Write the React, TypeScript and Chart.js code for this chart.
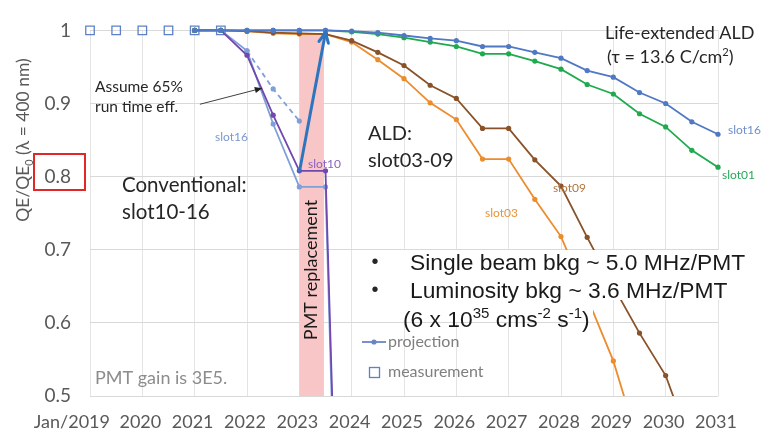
import React, { useEffect, useRef } from 'react';
import { Chart, registerables } from 'chart.js';

Chart.register(...registerables);

// ---------- data ----------
const halfYears = [2021, 2021.5, 2022, 2022.5, 2023, 2023.5, 2024, 2024.5, 2025, 2025.5, 2026, 2026.5, 2027, 2027.5, 2028, 2028.5, 2029, 2029.5, 2030, 2030.5, 2031];
const slot16Ald = [1, 1, 1, 1, 1, 1, 0.999, 0.997, 0.993, 0.989, 0.986, 0.978, 0.978, 0.970, 0.962, 0.945, 0.936, 0.915, 0.900, 0.875, 0.858];
const slot01Ald = [1, 1, 1, 1, 1, 1, 0.998, 0.995, 0.990, 0.984, 0.978, 0.968, 0.968, 0.958, 0.947, 0.926, 0.913, 0.886, 0.868, 0.836, 0.813];
const slot09Ald = [1, 1, 0.999, 0.997, 0.996, 0.995, 0.986, 0.970, 0.952, 0.925, 0.907, 0.866, 0.866, 0.823, 0.787, 0.717, 0.650, 0.586, 0.528, 0.430];
const slot03Ald = [1, 1, 0.999, 0.996, 0.995, 0.995, 0.984, 0.960, 0.934, 0.901, 0.878, 0.824, 0.824, 0.769, 0.718, 0.635, 0.548, 0.430];

const convYears = [2021, 2021.5, 2022, 2022.5, 2023, 2023.5, 2024];
const slot10Conv = [1, 1, 0.966, 0.884, 0.808, 0.808, -0.4];
const slot16Conv = [1, 1, 0.972, 0.872, 0.786, 0.786, -0.45];

const projYears = [2022, 2022.5, 2023];
const slot16Proj = [0.972, 0.92, 0.876];

const measYears = [2019, 2019.5, 2020, 2020.5, 2021, 2021.5];
const measValues = [1, 1, 1, 1, 1, 1];

const arrowYears = [2023, 2023.5];
const arrowValues = [0.806, 0.997];

const replacementBand = [2023, 2023.47];
const replacementTop = 0.996;

const noteArrowYears = [2021.1, 2022.29];
const noteArrowValues = [0.899, 0.921];

const xTickLabels = ['Jan/2019', '2020', '2021', '2022', '2023', '2024', '2025', '2026', '2027', '2028', '2029', '2030', '2031'];
const xTickYears = [2019, 2020, 2021, 2022, 2023, 2024, 2025, 2026, 2027, 2028, 2029, 2030, 2031];

// ---------- styles ----------
const C_ALD16 = '#4f79c4';
const C_ALD01 = '#1faa4e';
const C_09 = '#8a5228';
const C_03 = '#ec8c2c';
const C_10 = '#7247ae';
const C_C16 = '#7f9fd8';
const C_ARROW = '#2e75c0';
const LATO = 'Lato, "Open Sans", sans-serif';
const ARIAL = '"Liberation Sans", Arial, sans-serif';

const pts = (xs: number[], ys: number[]) => ys.map((y, i) => ({ x: xs[i], y }));
const clip = { left: 10, right: 10, top: 10, bottom: 0 };

function lineDs(label: string, xs: number[], ys: number[], color: string, extra: any = {}) {
  return {
    label,
    data: pts(xs, ys),
    borderColor: color,
    backgroundColor: color,
    borderWidth: 1.8,
    pointRadius: 2.6,
    pointHoverRadius: 2.6,
    pointBorderWidth: 0,
    tension: 0,
    clip,
    ...extra,
  };
}

type Part = [string, number]; // text, 0 normal, 1 superscript, -1 subscript
function drawRich(ctx: CanvasRenderingContext2D, x: number, y: number, parts: Part[], size: number, family: string, color: string, small = 0.62) {
  ctx.fillStyle = color;
  ctx.textBaseline = 'alphabetic';
  ctx.textAlign = 'left';
  let cx = x;
  for (const [t, k] of parts) {
    const s = k === 0 ? size : size * small;
    ctx.font = `${s}px ${family}`;
    const dy = k === 1 ? -size * 0.38 : k === -1 ? size * 0.22 : 0;
    ctx.fillText(t, cx, y + dy);
    cx += ctx.measureText(t).width;
  }
}
function richWidth(ctx: CanvasRenderingContext2D, parts: Part[], size: number, family: string, small = 0.62) {
  let w = 0;
  for (const [t, k] of parts) {
    const s = k === 0 ? size : size * small;
    ctx.font = `${s}px ${family}`;
    w += ctx.measureText(t).width;
  }
  return w;
}
function text(ctx: CanvasRenderingContext2D, t: string, x: number, y: number, size: number, color: string, family = LATO, align: CanvasTextAlign = 'left') {
  ctx.font = `${size}px ${family}`;
  ctx.fillStyle = color;
  ctx.textAlign = align;
  ctx.textBaseline = 'middle';
  ctx.fillText(t, x, y);
}

const annotPlugin = {
  id: 'annot',
  beforeDatasetsDraw(chart: any) {
    const { ctx, chartArea, scales } = chart;
    const xs = scales.x, ys = scales.y;
    const x0 = xs.getPixelForValue(replacementBand[0]);
    const x1 = xs.getPixelForValue(replacementBand[1]);
    const yt = ys.getPixelForValue(replacementTop);
    ctx.save();
    ctx.fillStyle = '#f8c6c6';
    ctx.fillRect(x0, yt, x1 - x0, chartArea.bottom - yt);
    ctx.restore();
  },
  afterDatasetsDraw(chart: any) {
    const { ctx, scales } = chart;
    const xs = scales.x, ys = scales.y;
    ctx.save();

    // white text background boxes
    ctx.fillStyle = '#ffffff';
    ctx.fillRect(360, 250, 392, 50);
    ctx.fillRect(395, 300, 198, 22);

    // arrow head (replacement arrow)
    const ax0 = xs.getPixelForValue(arrowYears[0]), ay0 = ys.getPixelForValue(arrowValues[0]);
    const ax1 = xs.getPixelForValue(arrowYears[1]), ay1 = ys.getPixelForValue(arrowValues[1]);
    let ang = Math.atan2(ay1 - ay0, ax1 - ax0);
    ctx.strokeStyle = C_ARROW;
    ctx.lineWidth = 3;
    ctx.lineCap = 'round';
    ctx.beginPath();
    ctx.moveTo(ax1 - 11 * Math.cos(ang - 0.45), ay1 - 11 * Math.sin(ang - 0.45));
    ctx.lineTo(ax1, ay1);
    ctx.lineTo(ax1 - 11 * Math.cos(ang + 0.45), ay1 - 11 * Math.sin(ang + 0.45));
    ctx.stroke();

    // note arrow
    const nx0 = xs.getPixelForValue(noteArrowYears[0]), ny0 = ys.getPixelForValue(noteArrowValues[0]);
    const nx1 = xs.getPixelForValue(noteArrowYears[1]), ny1 = ys.getPixelForValue(noteArrowValues[1]);
    ang = Math.atan2(ny1 - ny0, nx1 - nx0);
    ctx.strokeStyle = '#404040';
    ctx.fillStyle = '#202020';
    ctx.lineWidth = 1;
    ctx.lineCap = 'butt';
    ctx.beginPath();
    ctx.moveTo(nx0, ny0);
    ctx.lineTo(nx1, ny1);
    ctx.stroke();
    ctx.beginPath();
    ctx.moveTo(nx1, ny1);
    ctx.lineTo(nx1 - 8 * Math.cos(ang - 0.4), ny1 - 8 * Math.sin(ang - 0.4));
    ctx.lineTo(nx1 - 8 * Math.cos(ang + 0.4), ny1 - 8 * Math.sin(ang + 0.4));
    ctx.closePath();
    ctx.fill();

    // texts
    const dark = '#262626';
    text(ctx, 'Life-extended ALD', 605, 33, 18, dark);
    drawRich(ctx, 607, 63, [['(τ = 13.6 C/cm', 0], ['2', 1], [')', 0]], 18, LATO, dark);

    text(ctx, 'slot16', 728, 130, 12, '#6f8fcc');
    text(ctx, 'slot01', 722, 175, 12, '#2aa85a');
    text(ctx, 'slot09', 553, 188, 12, '#b07640');
    text(ctx, 'slot03', 485, 213, 12, '#e8953a');
    text(ctx, 'slot10', 308, 164, 12, '#8a62c0');
    text(ctx, 'slot16', 215, 137, 12, '#7b98d0');

    text(ctx, 'Assume 65%', 95, 87, 15.5, dark);
    text(ctx, 'run time eff.', 95, 107, 15.5, dark);

    text(ctx, 'ALD:', 368, 134, 20, dark);
    text(ctx, 'slot03-09', 368, 161, 20, dark);
    text(ctx, 'Conventional:', 122, 185, 20.5, dark);
    text(ctx, 'slot10-16', 122, 212, 20.5, dark);

    // PMT replacement rotated
    ctx.save();
    ctx.translate(311, 270);
    ctx.rotate(-Math.PI / 2);
    text(ctx, 'PMT replacement', 0, 0, 18, '#1a1a1a', LATO, 'center');
    ctx.restore();

    // bullets
    text(ctx, '•', 375, 262, 20, dark, ARIAL, 'center');
    text(ctx, '•', 375, 290, 20, dark, ARIAL, 'center');
    drawRich(ctx, 410, 270, [['Single beam bkg ~ 5.0 MHz/PMT', 0]], 22.8, ARIAL, '#1a1a1a');
    drawRich(ctx, 410, 298, [['Luminosity bkg ~ 3.6 MHz/PMT', 0]], 22.8, ARIAL, '#1a1a1a');
    drawRich(ctx, 403, 327, [['(6 x 10', 0], ['35', 1], [' cms', 0], ['-2', 1], [' s', 0], ['-1', 1], [')', 0]], 22.8, ARIAL, '#1a1a1a', 0.66);

    // legend
    ctx.strokeStyle = '#6a84c8';
    ctx.lineWidth = 1.8;
    ctx.beginPath();
    ctx.moveTo(362, 342);
    ctx.lineTo(386, 342);
    ctx.stroke();
    ctx.fillStyle = '#6a84c8';
    ctx.beginPath();
    ctx.arc(374, 342, 2.6, 0, Math.PI * 2);
    ctx.fill();
    text(ctx, 'projection', 388, 342, 16, '#7f7f7f');
    ctx.strokeStyle = '#5b82c8';
    ctx.lineWidth = 1.3;
    ctx.strokeRect(369.5, 367.5, 10, 10);
    text(ctx, 'measurement', 388, 372, 16, '#7f7f7f');

    text(ctx, 'PMT gain is 3E5.', 95, 378, 18, '#8c8c8c');
    ctx.restore();
  },
  afterDraw(chart: any) {
    const { ctx, scales } = chart;
    const xs = scales.x;
    ctx.save();
    // x tick labels
    xTickLabels.forEach((lab, i) => {
      const px = xs.getPixelForValue(xTickYears[i]);
      if (i === 0) text(ctx, lab, px + 20, 422, 18, '#595959', LATO, 'right');
      else text(ctx, lab, px - 2, 422, 18, '#595959', LATO, 'center');
    });
    // y title
    ctx.translate(23, 140);
    ctx.rotate(-Math.PI / 2);
    const parts: Part[] = [['QE/QE', 0], ['0', -1], [' (λ = 400 nm)', 0]];
    const w = richWidth(ctx, parts, 17.5, LATO);
    drawRich(ctx, -w / 2, 6, parts, 17.5, LATO, '#595959');
    ctx.restore();
    // red box around 0.8 label
    ctx.save();
    ctx.strokeStyle = '#e02828';
    ctx.lineWidth = 2;
    ctx.strokeRect(34, 154, 51, 36);
    ctx.restore();
  },
};

export default function App() {
  const ref = useRef<HTMLCanvasElement>(null);
  useEffect(() => {
    document.body.style.margin = '0';
    const chart = new Chart(ref.current as HTMLCanvasElement, {
      type: 'line',
      data: {
        datasets: [
          { ...lineDs('arrow', arrowYears, arrowValues, C_ARROW), borderWidth: 3, pointRadius: 0 },
          lineDs('slot16', halfYears, slot16Ald, C_ALD16),
          lineDs('slot01', halfYears, slot01Ald, C_ALD01),
          lineDs('slot09', halfYears.slice(0, slot09Ald.length), slot09Ald, C_09),
          lineDs('slot03', halfYears.slice(0, slot03Ald.length), slot03Ald, C_03),
          lineDs('slot10', convYears, slot10Conv, C_10),
          lineDs('slot16 conv', convYears, slot16Conv, C_C16),
          lineDs('projection', projYears, slot16Proj, C_C16, { borderDash: [5, 4] }),
          {
            label: 'measurement',
            data: pts(measYears, measValues),
            showLine: false,
            pointStyle: 'rect',
            pointRadius: 6,
            pointBorderWidth: 1.3,
            borderColor: '#5b82c8',
            backgroundColor: 'rgba(255,255,255,0)',
            clip: false,
          },
        ] as any,
      },
      options: {
        responsive: false,
        animation: false,
        devicePixelRatio: 1,
        layout: { padding: { left: 0, right: 45, top: 21, bottom: 0 } },
        plugins: { legend: { display: false }, tooltip: { enabled: false } },
        scales: {
          x: {
            type: 'linear',
            min: 2019,
            max: 2031,
            ticks: { stepSize: 1, display: false },
            grid: { color: '#e4e4e4', drawTicks: false },
            border: { display: false },
            afterFit: (s: any) => { s.height = 37; },
          },
          y: {
            min: 0.5,
            max: 1,
            ticks: {
              stepSize: 0.1,
              padding: 19,
              color: '#595959',
              font: { family: LATO, size: 19 },
              callback: (v: any) => String(Number(Number(v).toFixed(1))),
            },
            grid: { color: '#d9d9d9', drawTicks: false },
            border: { display: false },
            afterFit: (s: any) => { s.width = 90; },
          },
        },
      } as any,
      plugins: [annotPlugin],
    });
    return () => chart.destroy();
  }, []);
  return (
    <div style={{ position: 'absolute', left: 0, top: 0, width: 763, height: 433, background: '#ffffff' }}>
      <canvas ref={ref} width={763} height={433} style={{ display: 'block' }} />
    </div>
  );
}
